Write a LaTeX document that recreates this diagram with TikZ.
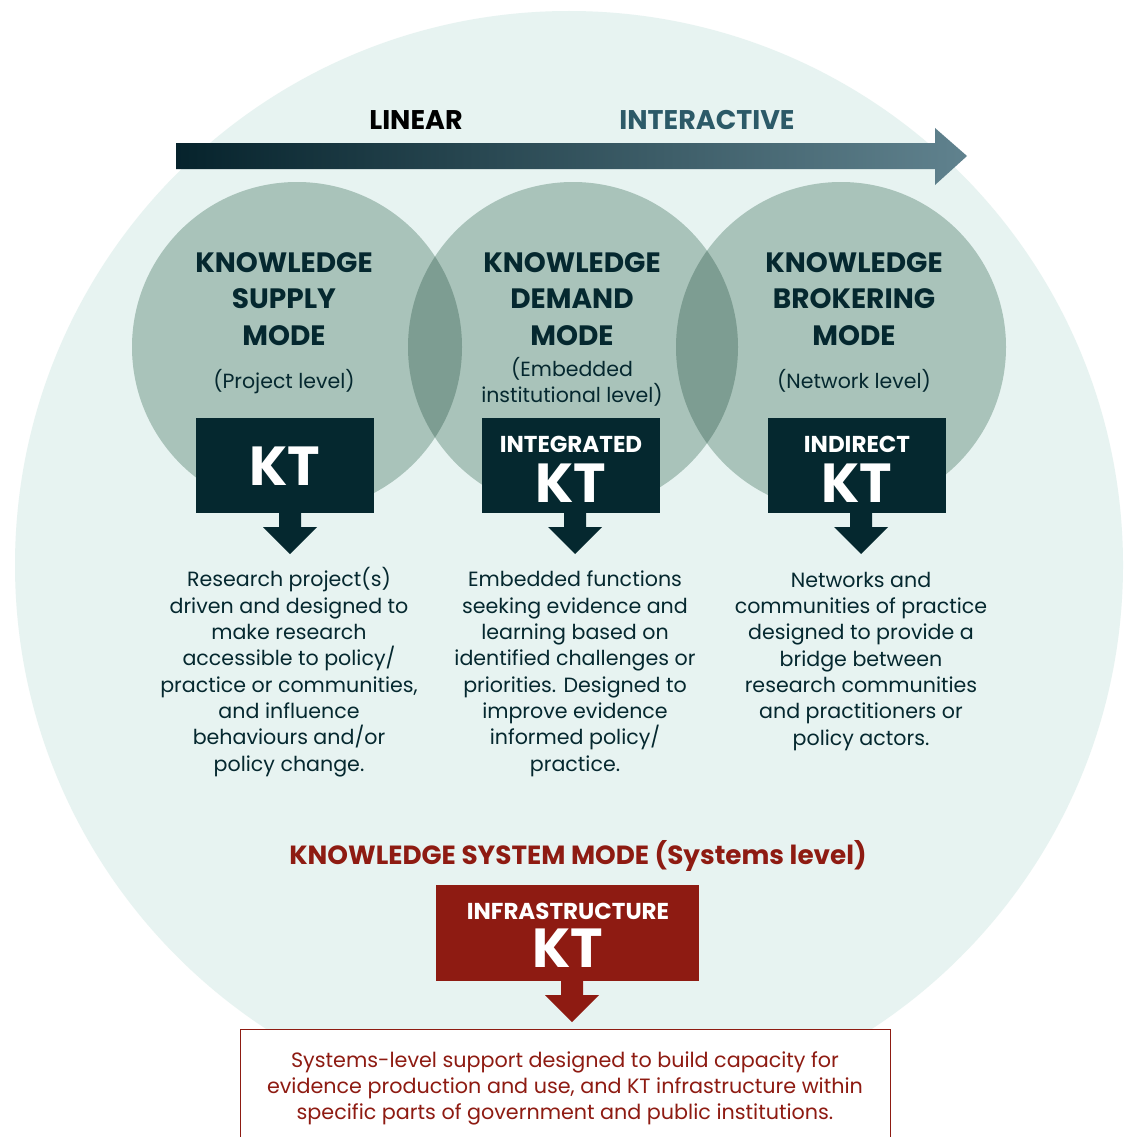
\documentclass[tikz,border=0pt]{standalone}
\usepackage{fontspec}
\setmainfont{Poppins}
\definecolor{bgmint}{HTML}{E7F3F1}
\definecolor{sage}{HTML}{A9C3BA}
\definecolor{sagedark}{HTML}{7D9D92}
\definecolor{ktdark}{HTML}{05282F}
\definecolor{ktred}{HTML}{8E1B12}
\definecolor{tealtxt}{HTML}{2C5A68}
\definecolor{arrowleft}{HTML}{06232C}
\definecolor{arrowmid}{HTML}{1D4753}
\definecolor{arrowright}{HTML}{60828E}

\begin{document}
% multi-line nodes are placed by the baseline of their last line
\begin{tikzpicture}[x=1pt,y=-1pt,
  title/.style={font=\bfseries\fontsize{28}{36.5}\selectfont, text=ktdark, align=center, anchor=base, inner sep=0pt},
  level/.style={font=\fontsize{20.5}{26}\selectfont, text=ktdark, align=center, anchor=base, inner sep=0pt},
  body/.style={font=\fontsize{20.6}{26.3}\selectfont, text=ktdark, align=center, anchor=base, inner sep=0pt},
  ktbox/.style={fill=ktdark, minimum width=178pt, minimum height=95pt, inner sep=0pt},
  kttag/.style={font=\bfseries\fontsize{23}{23}\selectfont, text=white, anchor=base, inner sep=0pt},
  ktbig/.style={font=\bfseries\fontsize{55}{55}\selectfont, text=white, anchor=base, inner sep=0pt},
  scalelabel/.style={font=\bfseries\fontsize{27}{27}\selectfont, anchor=base, inner sep=0pt},
  downarr/.pic={\fill (-11,0) -- (11,0) -- (11,14) -- (27,14) -- (0,41) -- (-27,14) -- (-11,14) -- cycle;}
]
\useasboundingbox (0,0) rectangle (1130,1137);
\fill[white] (0,0) rectangle (1130,1137);

% outer system circle
\fill[bgmint] (569,565) circle[radius=554pt];

% three mode circles with darker overlaps
\fill[sage] (297,347) circle[radius=165pt];
\fill[sage] (573,347) circle[radius=165pt];
\fill[sage] (841,347) circle[radius=165pt];
\begin{scope}
  \clip (297,347) circle[radius=165pt];
  \fill[sagedark] (573,347) circle[radius=165pt];
\end{scope}
\begin{scope}
  \clip (573,347) circle[radius=165pt];
  \fill[sagedark] (841,347) circle[radius=165pt];
\end{scope}

% linear -> interactive scale
\shade[left color=arrowleft, middle color=arrowmid, right color=arrowright]
  (176,143) -- (935,143) -- (935,128) -- (967,156) -- (935,185) -- (935,169) -- (176,169) -- cycle;
\node[scalelabel, text=black] (lin) at (416,130) {LINEAR};
\node[scalelabel, text=tealtxt] (inter) at (707,130) {INTERACTIVE};

% mode titles
\node[title] (t1) at (284,345) {KNOWLEDGE\\SUPPLY\\MODE};
\node[title] (t2) at (572,345) {KNOWLEDGE\\DEMAND\\MODE};
\node[title] (t3) at (854,345) {KNOWLEDGE\\BROKERING\\MODE};
\node[level] (l1) at (284,388) {(Project level)};
\node[level] (l2) at (572,402) {(Embedded\\institutional level)};
\node[level] (l3) at (854,388) {(Network level)};

% KT boxes
\node[ktbox] (b1) at (285,465.5) {};
\node[ktbox] (b2) at (570.5,465.5) {};
\node[ktbox] (b3) at (856.5,465.5) {};
\node[ktbig] (k1) at (285,485) {KT};
\node[kttag] (g2) at (571,452) {INTEGRATED};
\node[ktbig] (k2) at (571,502) {KT};
\node[kttag] (g3) at (857,452) {INDIRECT};
\node[ktbig] (k3) at (857,502) {KT};

\pic[color=ktdark] at (290,513) {downarr};
\pic[color=ktdark] at (575,513) {downarr};
\pic[color=ktdark] at (861,513) {downarr};

% descriptions
\node[body] (d1) at (289,771) {Research project(s)\\driven and designed to\\make research\\accessible to policy/\\practice or communities,\\and influence\\behaviours and/or\\policy change.};
\node[body] (d2) at (575,771) {Embedded functions\\seeking evidence and\\learning based on\\identified challenges or\\priorities. Designed to\\improve evidence\\informed policy/\\practice.};
\node[body] (d3) at (861,745) {Networks and\\communities of practice\\designed to provide a\\bridge between\\research communities\\and practitioners or\\policy actors.};

% system level
\node[font=\bfseries\fontsize{26.3}{26.3}\selectfont, text=ktred, anchor=base, inner sep=0pt] (sys) at (578,864) {KNOWLEDGE SYSTEM MODE (Systems level)};
\node[ktbox, fill=ktred, minimum width=263pt, minimum height=96pt] (b4) at (567.5,933) {};
\node[kttag] (g4) at (568,919) {INFRASTRUCTURE};
\node[ktbig] (k4) at (568,967) {KT};
\pic[color=ktred] at (572,981) {downarr};

\draw[ktred, line width=1pt, fill=white] (240,1150) -- (240,1029) -- (890,1029) -- (890,1150);
\node[body, text=ktred, font=\fontsize{20.7}{26}\selectfont] (d4) at (565,1119)
  {Systems-level support designed to build capacity for\\evidence production and use, and KT infrastructure within\\specific parts of government and public institutions.};
\end{tikzpicture}
\end{document}
